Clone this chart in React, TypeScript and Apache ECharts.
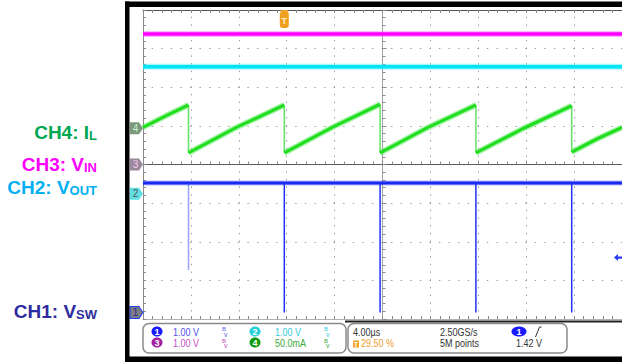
import React, { useEffect, useRef } from "react";
import * as echarts from "echarts";

// Screen: 10 div x 8 div, 4 µs/div, time relative to screen centre (µs)
const timeMin = -20;
const timeMax = 20;
const divMin = -4;
const divMax = 4;

// Channel ground-marker positions (divisions from screen centre) and units per division
const chNumbers = ["1", "2", "3", "4"];
const chZeroDiv = [-3.83, -0.76, 0, 0.94];
const chPerDiv = [1, 1, 1, 50];

// CH3: V_IN (V)
const vinT = [-20, 20];
const vinV = [3.38, 3.38];
// CH2: V_OUT (V)
const voutT = [-20, 20];
const voutV = [3.29, 3.29];
// CH4: I_L (mA)
const ilT = [-20, -18.1, -16.2, -16.2, -12.2, -8.2, -8.2, -4.2, -0.2, -0.2, 3.8, 7.8, 7.8, 11.8, 15.8, 15.8, 17.9, 20];
const ilMA = [1, 16, 30, -32, 1, 30, -32, 1, 31, -32, 1, 30, -32, 0, 29, -31, -14, 1];
// CH1: V_SW (V)
const vswT = [-20, 20];
const vswV = [3.35, 3.35];
const spikeT = [-16.2, -8.2, -0.2, 7.8, 15.8];
const spikeMin = [1.1, 0, 0, 0, 0];
// Trigger
const trigTime = -8.2;
const trigLevel = 1.42;

const pentagon = "path://M0,0 L9,0 L13,6 L9,12 L0,12 Z";
const markerFill = ["#7c7c84", "#5fe0e4", "#9a889a", "#7d987d"];
const markerText = ["#2a2a90", "#555555", "#f4c8f4", "#c6f0c6"];
const markerBorder = ["#2040ff", "#5fe0e4", "#9a889a", "#7d987d"];

function chAxis(i: number) {
  return {
    type: "value",
    show: false,
    min: (divMin - chZeroDiv[i]) * chPerDiv[i],
    max: (divMax - chZeroDiv[i]) * chPerDiv[i],
    splitLine: { show: false },
    axisLine: { show: false, onZero: false },
  };
}

function chMarker(i: number) {
  return {
    silent: true,
    animation: false,
    data: [
      {
        coord: [timeMin, 0],
        symbol: pentagon,
        symbolSize: [13, 12],
        symbolOffset: ["-50%", 0],
        itemStyle: { color: markerFill[i], borderColor: markerBorder[i], borderWidth: i === 0 ? 1 : 0 },
        label: {
          show: true,
          position: "inside",
          formatter: chNumbers[i],
          color: markerText[i],
          fontSize: 10,
          fontFamily: "Liberation Sans",
          offset: [-1, 0],
        },
      },
    ],
  };
}

const pairs = (t: number[], v: number[]) => t.map((x, i) => [x, v[i]]);

export default function App() {
  const ref = useRef<HTMLDivElement>(null);
  useEffect(() => {
    if (!ref.current) return;
    const chart = echarts.init(ref.current, undefined, { renderer: "svg" });

    const ramp: any[] = [];
    const drops: any[] = [];
    ilT.forEach((t, i) => {
      if (i > 0 && t === ilT[i - 1]) {
        ramp.push([t, "-"]);
        if (drops.length) drops.push([t, "-"]);
        drops.push([t, ilMA[i - 1]], [t, ilMA[i]]);
      }
      ramp.push([t, ilMA[i]]);
    });

    const tickStyle = { color: "#8a8a8a", width: 1 };
    const spikeSeries = spikeT.map((t, i) => ({
      type: "line",
      xAxisIndex: 0,
      yAxisIndex: 2,
      data: [
        [t, vswV[0]],
        [t, spikeMin[i]],
      ],
      showSymbol: false,
      silent: true,
      z: 6,
      lineStyle: { color: "#2232f2", width: 1.5, opacity: i === 0 ? 0.45 : 1 },
    }));

    const labelText = (main: string, sub: string, color: string, y: number) => ({
      type: "text",
      x: 97,
      y,
      style: {
        text: `{a|${main}}{s|${sub}}`,
        textAlign: "right",
        textVerticalAlign: "middle",
        rich: {
          a: { fontSize: 19, fontWeight: "bold", fontFamily: "Liberation Sans", fill: color, lineHeight: 20 },
          s: { fontSize: 13, fontWeight: "bold", fontFamily: "Liberation Sans", fill: color, lineHeight: 15, verticalAlign: "bottom" },
        },
      },
    });

    const small = (text: string, x: number, y: number, color: string) => ({
      type: "text",
      x,
      y,
      scaleX: 0.82,
      style: { text, fill: color, fontSize: 11, fontFamily: "Liberation Sans", textAlign: "left", textVerticalAlign: "middle" },
    });
    const badge = (n: string, cx: number, cy: number, color: string, rx = 5.5) => [
      { type: "ellipse", shape: { cx, cy, rx, ry: 5 }, style: { fill: color } },
      {
        type: "text",
        x: cx,
        y: cy,
        style: { text: n, fill: "#ffffff", fontSize: 9, fontWeight: "bold", fontFamily: "Liberation Sans", textAlign: "center", textVerticalAlign: "middle" },
      },
    ];
    const bw = (x: number, y: number, color: string) => [
      { type: "text", x, y: y - 3, style: { text: "B", fill: color, fontSize: 6, fontFamily: "Liberation Sans", textAlign: "left", textVerticalAlign: "middle" } },
      { type: "text", x: x + 2, y: y + 2, style: { text: "v", fill: color, fontSize: 7, fontFamily: "Liberation Sans", textAlign: "left", textVerticalAlign: "middle" } },
    ];

    chart.setOption({
      animation: false,
      backgroundColor: "#ffffff",
      grid: { left: 143, top: 10, width: 479, height: 309, containLabel: false },
      xAxis: [
        {
          type: "value",
          min: timeMin,
          max: timeMax,
          interval: 4,
          position: "bottom",
          axisLine: { show: true, onZero: false, lineStyle: { color: "#b0b0b0" } },
          axisTick: { show: true, inside: true, length: 3, lineStyle: tickStyle },
          minorTick: { show: true, splitNumber: 5, length: 3, lineStyle: tickStyle },
          axisLabel: { show: false },
          splitLine: { show: true, lineStyle: { color: "#9a9a9a", width: 1, type: [1.4, 6.32], dashOffset: 0.7 } },
        },
        {
          type: "value",
          min: timeMin,
          max: timeMax,
          interval: 4,
          position: "top",
          axisLine: { show: true, onZero: false, lineStyle: { color: "#555" } },
          axisTick: { show: true, inside: true, length: 3, lineStyle: tickStyle },
          minorTick: { show: true, splitNumber: 5, length: 3, lineStyle: tickStyle },
          axisLabel: { show: false },
          splitLine: { show: false },
        },
        {
          type: "value",
          min: timeMin,
          max: timeMax,
          interval: 4,
          position: "bottom",
          axisLine: { show: true, onZero: true, onZeroAxisIndex: 0, lineStyle: { color: "#5a5a5a" } },
          axisTick: { show: true, inside: true, length: 4, lineStyle: tickStyle },
          minorTick: { show: true, splitNumber: 5, length: 3, lineStyle: tickStyle },
          axisLabel: { show: false },
          splitLine: { show: false },
        },
      ],
      yAxis: [
        {
          type: "value",
          min: divMin,
          max: divMax,
          interval: 1,
          position: "left",
          axisLine: { show: true, onZero: false, lineStyle: { color: "#8a8a8a" } },
          axisTick: { show: true, inside: true, length: 3, lineStyle: tickStyle },
          minorTick: { show: true, splitNumber: 5, length: 3, lineStyle: tickStyle },
          axisLabel: { show: false },
          splitLine: { show: true, lineStyle: { color: "#9a9a9a", width: 1, type: [1.4, 8.18], dashOffset: 0.7 } },
        },
        {
          type: "value",
          min: divMin,
          max: divMax,
          interval: 1,
          position: "left",
          axisLine: { show: true, onZero: true, onZeroAxisIndex: 0, lineStyle: { color: "#a0a0a0" } },
          axisTick: { show: true, inside: true, length: 4, lineStyle: tickStyle },
          minorTick: { show: true, splitNumber: 5, length: 3, lineStyle: tickStyle },
          axisLabel: { show: false },
          splitLine: { show: false },
        },
        chAxis(0),
        chAxis(1),
        chAxis(2),
        chAxis(3),
      ],
      series: [
        // CH4 I_L
        { type: "line", xAxisIndex: 0, yAxisIndex: 5, data: ramp, showSymbol: false, silent: true, z: 3, lineStyle: { color: "rgba(70,235,70,0.45)", width: 6 } },
        { type: "line", xAxisIndex: 0, yAxisIndex: 5, data: drops, showSymbol: false, silent: true, z: 3, lineStyle: { color: "#66e066", width: 1.5 } },
        { type: "line", xAxisIndex: 0, yAxisIndex: 5, data: ramp, showSymbol: false, silent: true, z: 4, lineStyle: { color: "#22dd22", width: 3.2 }, markPoint: chMarker(3) },
        // CH3 V_IN
        { type: "line", xAxisIndex: 0, yAxisIndex: 4, data: pairs(vinT, vinV), showSymbol: false, silent: true, z: 3, lineStyle: { color: "rgba(255,90,255,0.45)", width: 6 } },
        {
          type: "line",
          xAxisIndex: 0,
          yAxisIndex: 4,
          data: pairs(vinT, vinV),
          showSymbol: false,
          silent: true,
          z: 4,
          lineStyle: { color: "#ff00ff", width: 3.5 },
          markPoint: {
            silent: true,
            animation: false,
            data: [
              chMarker(2).data[0],
              {
                coord: [trigTime, divMax],
                symbol: "path://M1,0 L8,0 L8,2 L9,3 L9,15 Q9,18 6,18 L3,18 Q0,18 0,15 L0,3 L1,2 Z",
                symbolSize: [9, 18],
                symbolOffset: [0, "50%"],
                itemStyle: { color: "#f0a020" },
                label: { show: true, position: "inside", formatter: "T", color: "#fff2cc", fontSize: 9, fontWeight: "bold", fontFamily: "Liberation Sans", offset: [0, 2] },
              },
            ],
          },
        },
        // CH2 V_OUT
        { type: "line", xAxisIndex: 0, yAxisIndex: 3, data: pairs(voutT, voutV), showSymbol: false, silent: true, z: 3, lineStyle: { color: "rgba(60,235,255,0.45)", width: 6 } },
        { type: "line", xAxisIndex: 0, yAxisIndex: 3, data: pairs(voutT, voutV), showSymbol: false, silent: true, z: 4, lineStyle: { color: "#00e6f6", width: 3.5 }, markPoint: chMarker(1) },
        // CH1 V_SW
        { type: "line", xAxisIndex: 0, yAxisIndex: 2, data: pairs(vswT, vswV), showSymbol: false, silent: true, z: 5, lineStyle: { color: "rgba(40,60,255,0.35)", width: 5 } },
        {
          type: "line",
          xAxisIndex: 0,
          yAxisIndex: 2,
          data: pairs(vswT, vswV),
          showSymbol: false,
          silent: true,
          z: 6,
          lineStyle: { color: "#1a2af0", width: 3 },
          markPoint: {
            silent: true,
            animation: false,
            data: [
              chMarker(0).data[0],
              {
                coord: [timeMax, trigLevel],
                symbol: "path://M0,5 L6,0 L6,3.5 L12,3.5 L12,6.5 L6,6.5 L6,10 Z",
                symbolSize: [8, 7],
                symbolOffset: ["-50%", 0],
                itemStyle: { color: "#2a3af5" },
                label: { show: false },
              },
            ],
          },
        },
        ...spikeSeries,
      ],
      graphic: [
        // frame bars
        { type: "rect", shape: { x: 125, y: 1.5, width: 497, height: 5.5 }, style: { fill: "#000" }, z: 100 },
        { type: "rect", shape: { x: 125, y: 1.5, width: 4.5, height: 360.5 }, style: { fill: "#000" }, z: 100 },
        { type: "rect", shape: { x: 125, y: 356.5, width: 497, height: 5.5 }, style: { fill: "#000" }, z: 100 },
        { type: "line", shape: { x1: 345, y1: 321.5, x2: 622, y2: 321.5 }, style: { stroke: "#222", lineWidth: 2 }, z: 100 },
        // channel labels
        labelText("CH4: I", "L", "#00a651", 132),
        labelText("CH3: V", "IN", "#ff00ff", 164),
        labelText("CH2: V", "OUT", "#00b0f0", 187),
        labelText("CH1: V", "SW", "#2d2d9f", 311),
        // info boxes
        { type: "rect", shape: { x: 143, y: 323.5, width: 203, height: 29.5, r: 6 }, style: { fill: "#fff", stroke: "#8a8a8a", lineWidth: 1.5 } },
        { type: "rect", shape: { x: 348, y: 323.5, width: 219, height: 29.5, r: 6 }, style: { fill: "#fff", stroke: "#8a8a8a", lineWidth: 1.5 } },
        ...badge("1", 157, 331.5, "#1a1aff"),
        small("1.00 V", 173, 332, "#5050ee"),
        ...bw(222, 332, "#6060ee"),
        ...badge("2", 255, 331.5, "#28cfd8"),
        small("1.00 V", 275, 332, "#30ccdc"),
        ...bw(324, 332, "#30ccdc"),
        ...badge("3", 157, 342.5, "#a020a0"),
        small("1.00 V", 173, 343.5, "#c050c0"),
        ...bw(222, 343.5, "#c050c0"),
        ...badge("4", 255, 342.5, "#109a10"),
        small("50.0mA", 275, 343.5, "#40aa40"),
        ...bw(324, 343.5, "#40aa40"),
        small("4.00µs", 353, 332, "#333333"),
        small("2.50GS/s", 440, 332, "#333333"),
        ...badge("1", 519, 331.5, "#1a1aff", 7.5),
        { type: "line", shape: { x1: 535.5, y1: 337, x2: 539.5, y2: 327 }, style: { stroke: "#333", lineWidth: 1 } },
        { type: "line", shape: { x1: 539.5, y1: 327, x2: 541.5, y2: 327 }, style: { stroke: "#333", lineWidth: 1 } },
        { type: "rect", shape: { x: 353, y: 340.5, width: 6, height: 7 }, style: { fill: "#f0a020" } },
        {
          type: "text",
          x: 356,
          y: 344,
          style: { text: "T", fill: "#fff", fontSize: 7, fontWeight: "bold", fontFamily: "Liberation Sans", textAlign: "center", textVerticalAlign: "middle" },
        },
        small("29.50 %", 361, 343.5, "#f0a030"),
        small("5M points", 440, 343.5, "#333333"),
        small("1.42 V", 516, 343.5, "#333333"),
      ],
    });
    return () => chart.dispose();
  }, []);
  return (
    <div
      ref={ref}
      style={{ position: "fixed", left: 0, top: 0, width: 622, height: 362, background: "#fff" }}
    />
  );
}
